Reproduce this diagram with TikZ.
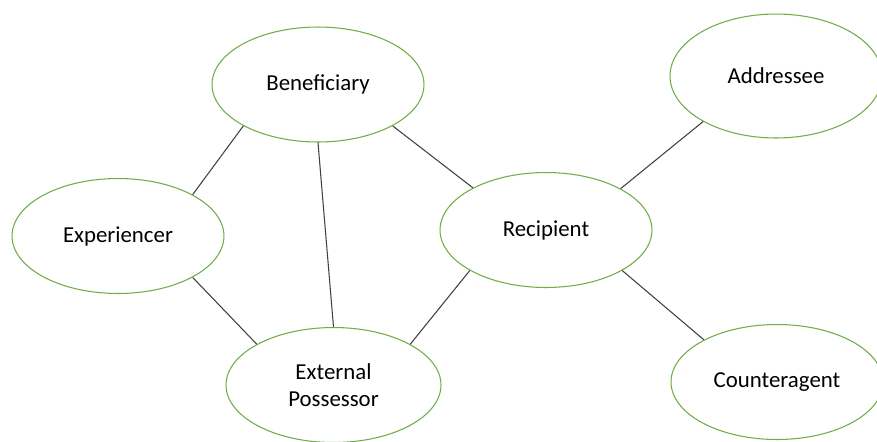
\documentclass[tikz,border=0pt]{standalone}
\usepackage{fontspec}
\setmainfont{Carlito}
\usetikzlibrary{shapes.geometric}

\definecolor{rolegreen}{RGB}{112,173,71}
\definecolor{linkgray}{RGB}{64,64,64}

\tikzset{
  role/.style={ellipse,draw=rolegreen,line width=.6pt,fill=white,inner sep=0pt,
    minimum width=4.24cm,minimum height=2.3cm,align=center,
    font=\fontsize{13}{15.5}\selectfont},
  link/.style={draw=linkgray,line width=.6pt}
}

\begin{document}
\begin{tikzpicture}[x=0.02cm,y=-0.02cm]
\useasboundingbox (0,0) rectangle (877,441);
\clip (0,0) rectangle (877,441);
\fill[white] (0,0) rectangle (877,441);

\node[role] (ben) at (318,84.5) {Beneficiary};
\node[role] (exp) at (118,236) {Experiencer};
\node[role] (rec) at (546,230) {Recipient};
\node[role,minimum height=2.48cm] (addr) at (776,76) {Addressee};
\node[role,minimum width=4.3cm] (extp) at (333.5,385) {External\\Possessor};
\node[role] (cntr) at (777,382) {Counteragent};

\draw[link] (ben.209) -- (exp.29.5);
\draw[link] (ben.270) -- (extp.90);
\draw[link] (ben.331.6) -- (rec.150.4);
\draw[link] (exp.331.6) -- (extp.152);
\draw[link] (extp.28) -- (rec.208);
\draw[link] (rec.29) -- (addr.212);
\draw[link] (rec.332) -- (cntr.150);
\end{tikzpicture}
\end{document}
